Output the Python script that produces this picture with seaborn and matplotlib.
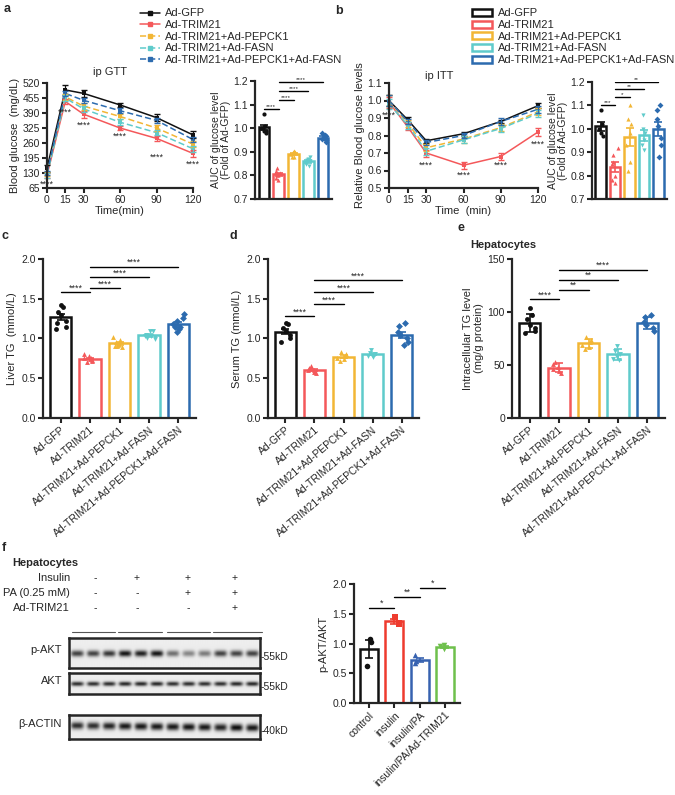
import numpy as np
import pandas as pd
import seaborn as sns
import matplotlib.pyplot as plt
from matplotlib.lines import Line2D
from matplotlib.patches import Patch

sns.set_style("ticks")
plt.rcParams['font.family'] = ['Liberation Sans', 'DejaVu Sans']

# ---- data -------------------------------------------------------------
groups = ['Ad-GFP', 'Ad-TRIM21', 'Ad-TRIM21+Ad-PEPCK1', 'Ad-TRIM21+Ad-FASN',
          'Ad-TRIM21+Ad-PEPCK1+Ad-FASN']
colors = ['#111111', '#F4585A', '#F2B635', '#5FCBCB', '#2C6BAF']
markers = ['o', '^', '^', 'v', 'D']

times = [0, 15, 30, 60, 90, 120]
gtt_mean = [[150, 490, 475, 425, 370, 295],
            [120, 440, 385, 325, 280, 215],
            [125, 460, 420, 375, 325, 255],
            [120, 455, 408, 350, 305, 235],
            [130, 475, 445, 400, 358, 275]]
gtt_sem = [[15, 20, 15, 10, 15, 15],
           [12, 12, 15, 10, 10, 15],
           [10, 12, 15, 12, 12, 12],
           [10, 12, 12, 12, 10, 12],
           [10, 12, 12, 10, 12, 12]]
gtt_star_t = [0, 15, 30, 60, 90, 120]
gtt_star_y = [80, 395, 335, 288, 200, 168]

itt_mean = [[1.00, 0.89, 0.77, 0.81, 0.88, 0.97],
            [0.99, 0.85, 0.70, 0.63, 0.68, 0.82],
            [1.00, 0.87, 0.73, 0.78, 0.845, 0.935],
            [0.98, 0.86, 0.71, 0.775, 0.84, 0.925],
            [1.00, 0.88, 0.76, 0.80, 0.88, 0.95]]
itt_sem = [[0.03, 0.015, 0.01, 0.01, 0.01, 0.015],
           [0.03, 0.02, 0.02, 0.02, 0.02, 0.025],
           [0.03, 0.02, 0.02, 0.02, 0.02, 0.02],
           [0.03, 0.02, 0.02, 0.02, 0.02, 0.02],
           [0.03, 0.015, 0.015, 0.015, 0.02, 0.02]]
itt_star_t = [0, 30, 60, 90, 120]
itt_star_y = [0.915, 0.632, 0.572, 0.629, 0.752]

auc_gtt = [[1.06, 1.01, 1.00, 0.99, 0.98, 0.99, 1.00],
           [0.83, 0.82, 0.80, 0.79, 0.78, 0.81, 0.80],
           [0.90, 0.905, 0.89, 0.88, 0.89, 0.90, 0.88],
           [0.88, 0.87, 0.85, 0.84, 0.86, 0.865, 0.85],
           [0.98, 0.965, 0.95, 0.96, 0.94, 0.97, 0.955]]
auc_itt = [[1.08, 1.02, 1.00, 0.98, 0.97],
           [0.92, 0.89, 0.86, 0.85, 0.80, 0.78, 0.77],
           [1.10, 1.04, 1.02, 0.98, 0.93, 0.86, 0.82],
           [1.06, 1.00, 0.98, 0.95, 0.93, 0.91],
           [1.10, 1.08, 1.04, 1.01, 0.96, 0.93, 0.88]]
liver_tg = [[1.42, 1.39, 1.33, 1.30, 1.22, 1.15, 1.12, 1.20],
            [0.80, 0.78, 0.76, 0.74, 0.72, 0.70, 0.73, 0.75],
            [1.02, 0.98, 0.95, 0.92, 0.90, 0.89, 0.93, 0.91],
            [1.10, 1.09, 1.05, 1.03, 1.00, 1.02, 0.99, 1.03],
            [1.31, 1.26, 1.22, 1.18, 1.15, 1.12, 1.08, 1.14]]
serum_tg = [[1.20, 1.18, 1.13, 1.10, 1.05, 1.00, 0.95],
            [0.65, 0.63, 0.61, 0.60, 0.58, 0.57],
            [0.83, 0.80, 0.78, 0.76, 0.74, 0.72],
            [0.86, 0.82, 0.80, 0.79, 0.78, 0.77],
            [1.19, 1.16, 1.08, 1.04, 1.00, 0.95, 0.92]]
cell_tg = [[104, 97, 93, 88, 85, 82, 80],
           [53, 51, 48, 46, 44, 42],
           [76, 74, 72, 69, 67, 65],
           [68, 63, 60, 58, 56, 55],
           [97, 95, 91, 88, 85, 82]]

auc_gtt_sig = [(0, 1, '****', 1.08), (1, 2, '****', 1.12), (1, 3, '****', 1.158), (1, 4, '****', 1.195)]
auc_itt_sig = [(0, 1, '***', 1.10), (1, 2, '*', 1.135), (1, 3, '**', 1.168), (1, 4, '**', 1.20)]
liver_sig = [(0, 1, '****', 1.58), (1, 2, '****', 1.63), (1, 3, '****', 1.77), (1, 4, '****', 1.90)]
serum_sig = [(0, 1, '****', 1.28), (1, 2, '****', 1.43), (1, 3, '****', 1.58), (1, 4, '****', 1.73)]
cell_sig = [(0, 1, '****', 112), (1, 2, '**', 121), (1, 3, '**', 130), (1, 4, '****', 140)]

f_groups = ['control', 'insulin', 'insulin/PA', 'insulin/PA/Ad-TRIM21']
f_colors = ['#111111', '#EE3B2E', '#3762B0', '#6EC04C']
f_markers = ['o', 's', '^', 'v']
pakt = [[1.07, 1.03, 0.62], [1.45, 1.35, 1.32], [0.80, 0.70, 0.68], [0.97, 0.95, 0.91]]
pakt_sig = [(0, 1, '*', 1.6), (1, 2, '**', 1.78), (2, 3, '*', 1.93)]

conditions = ['Insulin', 'PA (0.25 mM)', 'Ad-TRIM21']
cond_marks = [['-', '+', '+', '+'], ['-', '-', '+', '+'], ['-', '-', '-', '+']]
blot_names = ['p-AKT', 'AKT', '\u03b2-ACTIN']
blot_sizes = ['55kD', '55kD', '40kD']
band_pakt = [0.75, 0.75, 0.8, 0.95, 0.9, 0.95, 0.55, 0.45, 0.5, 0.75, 0.75, 0.75]
band_akt = [0.85, 0.85, 0.85, 0.88, 0.88, 0.88, 0.85, 0.85, 0.85, 0.85, 0.88, 0.88]
band_actin = [0.85, 0.85, 0.9, 0.95, 0.95, 0.95, 0.95, 0.97, 0.95, 0.9, 1.0, 0.95]

# ---- layout -----------------------------------------------------------
W, H = 675, 795
fig = plt.figure(figsize=(W / 100, H / 100), dpi=100)


def add_ax(x0, y0, x1, y1):
    return fig.add_axes([x0 / W, 1 - y1 / H, (x1 - x0) / W, (y1 - y0) / H])


def prism(ax):
    sns.despine(ax=ax)
    for s in ['left', 'bottom']:
        ax.spines[s].set_linewidth(1.6)
    ax.tick_params(width=1.5, length=3.5, labelsize=7.5, pad=1.5)


def ftext(x, y, s, **kw):
    fig.text(x / W, 1 - y / H, s, **kw)


def bracket(ax, sig, fs=6.5):
    for a, b, lab, y in sig:
        ax.plot([a, b], [y, y], color='black', lw=1)
        ax.text((a + b) / 2, y, lab, ha='center', va='bottom', fontsize=fs)


def line_panel(ax, mean, sem, star_t, star_y):
    rows = []
    for g, m in zip(groups, mean):
        for t, v in zip(times, m):
            rows.append({'group': g, 'time': t, 'value': v})
    df = pd.DataFrame(rows)
    sns.lineplot(data=df, x='time', y='value', hue='group', style='group',
                 palette=dict(zip(groups, colors)),
                 dashes={g: ('' if i < 2 else (4, 2)) for i, g in enumerate(groups)},
                 markers={g: 's' for g in groups}, markersize=3, markeredgewidth=0,
                 linewidth=1.1, legend=False, ax=ax)
    for c, m, e in zip(colors, mean, sem):
        ax.errorbar(times, m, yerr=e, fmt='none', ecolor=c, capsize=2, lw=0.9, clip_on=False)
    for ln in ax.lines:
        ln.set_clip_on(False)
    for t, y in zip(star_t, star_y):
        ax.text(t, y, '****', ha='center', va='center', fontsize=6.5)
    ax.set_xlim(0, 120)
    ax.set_xticks(times)
    prism(ax)


def bar_panel(ax, data, cats, cols, marks, sig, sd=False, ms=3.5, star_fs=6.5):
    rows = []
    for g, vals in zip(cats, data):
        for v in vals:
            rows.append({'group': g, 'value': v})
    df = pd.DataFrame(rows)
    sns.barplot(data=df, x='group', y='value', hue='group', order=cats,
                palette=dict(zip(cats, cols)), fill=False, errorbar=None,
                width=0.72, linewidth=1.8, legend=False, ax=ax)
    np.random.seed(3)
    for i, (g, c, mk) in enumerate(zip(cats, cols, marks)):
        sub = df[df.group == g]
        sns.stripplot(data=sub, x='group', y='value', order=cats, color=c, marker=mk,
                      size=ms, jitter=0.22, ax=ax, legend=False)
        vals = np.array(data[i])
        err = vals.std(ddof=1) if sd else vals.std(ddof=1) / np.sqrt(len(vals))
        ax.errorbar(i, vals.mean(), yerr=err, fmt='none', ecolor=c, capsize=3,
                    lw=1.2, capthick=1.2)
    bracket(ax, sig, fs=star_fs)
    ax.set_xlim(-0.6, len(cats) - 0.4)
    ax.set_xlabel('')
    prism(ax)


# panel a
ax = add_ax(47, 83, 193, 188)
line_panel(ax, gtt_mean, gtt_sem, gtt_star_t, gtt_star_y)
ax.set_ylim(65, 520)
ax.set_yticks(range(65, 521, 65))
ax.set_xlabel('Time(min)', fontsize=8, labelpad=1)
ax.set_ylabel('Blood glucose  (mg/dL)', fontsize=8, labelpad=2)

ax = add_ax(255, 81, 332, 199)
bar_panel(ax, auc_gtt, groups, colors, markers, auc_gtt_sig, ms=3, star_fs=4.6)
ax.set_ylim(0.7, 1.2)
ax.set_xticks([])
ax.set_ylabel('AUC of glucose level\n(Fold of Ad-GFP)', fontsize=7.5, labelpad=2, linespacing=1.0)

# panel b
ax = add_ax(389, 83, 538, 188)
line_panel(ax, itt_mean, itt_sem, itt_star_t, itt_star_y)
ax.set_ylim(0.5, 1.1)
ax.set_yticks(np.arange(0.5, 1.11, 0.1))
ax.set_xlabel('Time  (min)', fontsize=8, labelpad=1)
ax.set_ylabel('Relative Blood glucose levels', fontsize=8, labelpad=2)

ax = add_ax(592, 82, 667, 199)
bar_panel(ax, auc_itt, groups, colors, markers, auc_itt_sig, ms=3, star_fs=4.6)
ax.set_ylim(0.7, 1.2)
ax.set_xticks([])
ax.set_ylabel('AUC of glucose level\n(Fold of Ad-GFP)', fontsize=7.5, labelpad=2, linespacing=1.0)

# panels c, d, e
for (x0, x1), data, sig, ylab, ylim, yt, sd in [
        ((43, 196), liver_tg, liver_sig, 'Liver TG  (mmol/L)', (0, 2), np.arange(0, 2.01, 0.5), False),
        ((268, 419), serum_tg, serum_sig, 'Serum TG (mmol/L)', (0, 2), np.arange(0, 2.01, 0.5), False),
        ((512, 665), cell_tg, cell_sig, 'Intracellular TG level\n(mg/g protein)', (0, 150), [0, 50, 100, 150], True)]:
    ax = add_ax(x0, 259, x1, 418)
    bar_panel(ax, data, groups, colors, markers, sig, sd=sd, ms=3.5)
    ax.set_ylim(*ylim)
    ax.set_yticks(yt)
    if ylim[1] == 2:
        ax.set_yticklabels([f'{v:.1f}' for v in yt])
    ax.set_xticks(range(len(groups)))
    ax.set_xticklabels(groups, rotation=40, ha='right', rotation_mode='anchor', fontsize=7.5)
    ax.set_ylabel(ylab, fontsize=8, labelpad=3, linespacing=1.1)

# panel f bar
ax = add_ax(354, 584, 460, 703)
bar_panel(ax, pakt, f_groups, f_colors, f_markers, pakt_sig, ms=4)
ax.set_ylim(0, 2)
ax.set_yticks([0, 0.5, 1.0, 1.5, 2.0])
ax.set_yticklabels(['0.0', '0.5', '1.0', '1.5', '2.0'])
ax.set_xticks(range(4))
ax.set_xticklabels(f_groups, rotation=45, ha='right', rotation_mode='anchor', fontsize=7.5)
ax.set_ylabel('p-AKT/AKT', fontsize=8, labelpad=3)

# western blots
yy, xx = np.mgrid[0:30, 0:240]
for (y0, y1), name, size, bands in [((638, 668), blot_names[0], blot_sizes[0], band_pakt),
                                     ((673, 694), blot_names[1], blot_sizes[1], band_akt),
                                     ((715, 739), blot_names[2], blot_sizes[2], band_actin)]:
    ax = add_ax(69, y0, 260, y1)
    img = np.zeros((30, 240))
    thick = 4.5 if name == blot_names[2] else 3.2
    for i, b in enumerate(bands):
        cx = (i + 0.5) * 20
        cy = 14 + (i - 5) * 0.25 if name == blot_names[2] else 15
        img += b * np.exp(-((xx - cx) / 8.0) ** 4 - ((yy - cy) / thick) ** 2)
    img = 0.93 - 0.88 * np.clip(img, 0, 1)
    ax.imshow(img, cmap='gray', vmin=0, vmax=1, aspect='auto', interpolation='bilinear')
    ax.set_xticks([])
    ax.set_yticks([])
    for s in ax.spines.values():
        s.set_linewidth(1.8)
    ftext(62, (y0 + y1) / 2 - 3, name, ha='right', va='center', fontsize=8)
    ftext(261, (y0 + y1) / 2 + 4, '-' + size, ha='left', va='center', fontsize=7.5)

# condition table
ftext(12, 563, 'Hepatocytes', fontsize=8, fontweight='bold', va='center')
lane_x = [95, 137, 188, 235]
for r, (lab, marks) in enumerate(zip(conditions, cond_marks)):
    y = 578 + r * 15
    ftext(70, y, lab, ha='right', va='center', fontsize=8)
    for x, m in zip(lane_x, marks):
        ftext(x, y, m, ha='center', va='center', fontsize=7.5)
for x0, x1 in [(72, 115), (118, 162), (167, 210), (213, 262)]:
    fig.add_artist(Line2D([x0 / W, x1 / W], [1 - 632 / H, 1 - 632 / H], color='#555555', lw=0.8))

# legends and labels
leg_a = [Line2D([0], [0], color=c, lw=1.1, ls='-' if i < 2 else (0, (4, 2)), marker='s', markersize=2.5)
         for i, c in enumerate(colors)]
fig.legend(leg_a, groups, loc='upper left', bbox_to_anchor=(136 / W, 1 - 4 / H), frameon=False,
           fontsize=8, handlelength=1.8, handletextpad=0.4, labelspacing=0.15, borderaxespad=0)
leg_b = [Patch(facecolor='white', edgecolor=c, linewidth=1.8) for c in colors]
fig.legend(leg_b, groups, loc='upper left', bbox_to_anchor=(468 / W, 1 - 4 / H), frameon=False,
           fontsize=8, handlelength=1.8, handleheight=0.6, handletextpad=0.5, labelspacing=0.15,
           borderaxespad=0)

ftext(93, 72, 'ip GTT', fontsize=8, va='center')
ftext(425, 76, 'ip ITT', fontsize=8, va='center')
for lab, x, y in [('a', 4, 9), ('b', 335, 11), ('c', 2, 236), ('d', 229, 236), ('e', 458, 228), ('f', 2, 548)]:
    ftext(x, y, lab, fontsize=9, fontweight='bold', va='center')
ftext(470, 245, 'Hepatocytes', fontsize=8, fontweight='bold', va='center')

fig.savefig('out.png', dpi=100)
